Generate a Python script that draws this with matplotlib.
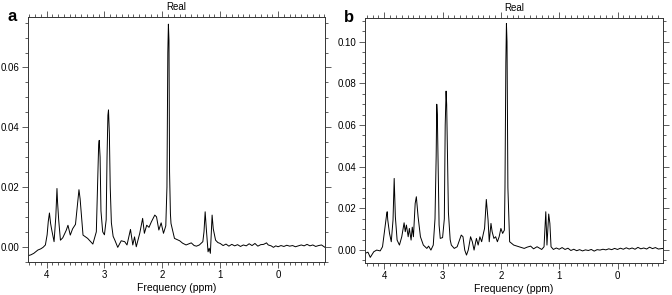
import matplotlib
matplotlib.use("Agg")
import matplotlib.pyplot as plt
from matplotlib.ticker import MultipleLocator

plt.rcParams['font.family'] = ['Liberation Sans', 'DejaVu Sans']

# Spectrum a: chemical shift (ppm) and real amplitude
ppm_a = [4.32, 4.27, 4.22, 4.15, 4.10, 4.06, 4.02, 3.99, 3.97, 3.95, 3.93, 3.91, 3.87,
         3.84, 3.82, 3.81, 3.79, 3.76, 3.72, 3.66, 3.63, 3.59, 3.55, 3.50, 3.46,
         3.44, 3.42, 3.37, 3.29, 3.20, 3.14, 3.12, 3.10, 3.09, 3.075, 3.06, 3.03,
         3.00, 2.97, 2.955, 2.94, 2.93, 2.915, 2.90, 2.88, 2.85, 2.82, 2.77, 2.71,
         2.65, 2.61, 2.55, 2.51, 2.48, 2.45, 2.39, 2.34, 2.31, 2.27, 2.23, 2.19,
         2.13, 2.10, 2.06, 2.02, 1.98, 1.94, 1.92, 1.905, 1.895, 1.885, 1.875, 1.86,
         1.85, 1.79, 1.70, 1.65, 1.59, 1.55, 1.50, 1.45, 1.41, 1.36, 1.30, 1.28,
         1.26, 1.24, 1.21, 1.19, 1.17, 1.155, 1.14, 1.12, 1.08, 1.04, 1.00,
         0.95, 0.90, 0.85, 0.80, 0.75, 0.70, 0.65, 0.60, 0.55, 0.50, 0.45, 0.40,
         0.35, 0.30, 0.25, 0.20, 0.17, 0.12, 0.08, 0.04, 0.00, -0.05, -0.10, -0.15,
         -0.20, -0.25, -0.30, -0.35, -0.40, -0.45, -0.50, -0.55, -0.60, -0.65,
         -0.70, -0.75, -0.81]
amp_a = [-0.0030, -0.0027, -0.0022, -0.0011, -0.0007, -0.0002, 0.0006, 0.0040, 0.0085, 0.0113, 0.0078, 0.0056, 0.0017,
         0.0100, 0.0195, 0.0150, 0.0089, 0.0022, 0.0030, 0.0055, 0.0072, 0.0039, 0.0060, 0.0075, 0.0150,
         0.0191, 0.0160, 0.0039, 0.0028, 0.0009, 0.0050, 0.0200, 0.0340, 0.0356, 0.0300, 0.0120, 0.0050,
         0.0040, 0.0090, 0.0300, 0.0440, 0.0458, 0.0380, 0.0200, 0.0080, 0.0035, 0.0022, -0.0002, 0.0020,
         0.0017, 0.0006, 0.0058, 0.0006, 0.0033, 0.0000, 0.0045, 0.0095, 0.0045, 0.0072, 0.0065, 0.0083,
         0.0106, 0.0100, 0.0056, 0.0080, 0.0045, 0.0070, 0.0200, 0.0650, 0.0745, 0.0690, 0.0250, 0.0110,
         0.0078, 0.0028, 0.0020, 0.0012, 0.0006, 0.0009, 0.0013, 0.0004, 0.0002, 0.0006, 0.0017, 0.0050,
         0.0117, 0.0060, -0.0017, -0.0005, -0.0022, 0.0040, 0.0106, 0.0060, 0.0022, 0.0014, 0.0011,
         0.0004, 0.0009, 0.0002, 0.0008, 0.0003, 0.0007, 0.0001, 0.0006, 0.0003, 0.0010, 0.0004, 0.0011,
         0.0002, 0.0007, 0.0008, 0.0013, 0.0006, 0.0003, -0.0002, 0.0003, 0.0000, 0.0004, 0.0001, 0.0005,
         0.0002, 0.0004, 0.0000, 0.0003, 0.0006, 0.0003, 0.0008, 0.0003, 0.0006, 0.0001,
         0.0004, 0.0006, -0.0002]

# Spectrum b
ppm_b = [4.33, 4.28, 4.24, 4.18, 4.13, 4.07, 4.03, 3.99, 3.96, 3.95, 3.94, 3.91, 3.88,
         3.85, 3.83, 3.81, 3.78, 3.74, 3.70, 3.66, 3.64, 3.62, 3.59, 3.57, 3.54,
         3.52, 3.50, 3.47, 3.45, 3.42, 3.38, 3.33, 3.27, 3.24, 3.20, 3.16, 3.13,
         3.11, 3.10, 3.09, 3.075, 3.06, 3.04, 3.00, 2.97, 2.955, 2.94, 2.93, 2.915,
         2.90, 2.87, 2.85, 2.80, 2.75, 2.68, 2.65, 2.62, 2.59, 2.56, 2.52, 2.49,
         2.46, 2.42, 2.39, 2.36, 2.33, 2.30, 2.28, 2.25, 2.22, 2.20, 2.17, 2.15,
         2.12, 2.09, 2.06, 2.03, 2.00, 1.97, 1.94, 1.93, 1.915, 1.905, 1.895, 1.88,
         1.85, 1.78, 1.69, 1.60, 1.55, 1.49, 1.44, 1.38, 1.30, 1.26, 1.245, 1.23,
         1.21, 1.19, 1.18, 1.16, 1.14, 1.10, 1.05, 1.00, 0.95, 0.90, 0.85, 0.80,
         0.75, 0.70, 0.65, 0.60, 0.55, 0.50, 0.45, 0.40, 0.35, 0.30, 0.25, 0.20,
         0.15, 0.10, 0.05, 0.00, -0.05, -0.10, -0.15, -0.20, -0.25, -0.30, -0.35,
         -0.40, -0.45, -0.50, -0.55, -0.60, -0.65, -0.70, -0.78]
amp_b = [-0.0016, -0.0010, -0.0035, -0.0008, 0.0000, -0.0004, 0.0016, 0.0104, 0.0170, 0.0184, 0.0144, 0.0080, 0.0040,
         0.0144, 0.0344, 0.0160, 0.0048, 0.0024, 0.0064, 0.0131, 0.0088, 0.0120, 0.0064, 0.0104, 0.0048,
         0.0110, 0.0064, 0.0224, 0.0256, 0.0160, 0.0064, 0.0024, 0.0008, 0.0019, 0.0000, 0.0024, 0.0150,
         0.0450, 0.0700, 0.0650, 0.0400, 0.0120, 0.0056, 0.0060, 0.0150, 0.0600, 0.0763, 0.0700, 0.0450,
         0.0180, 0.0050, 0.0024, 0.0008, 0.0016, 0.0072, 0.0064, 0.0000, -0.0024, 0.0000, 0.0064, 0.0040,
         0.0000, 0.0056, 0.0024, 0.0064, 0.0040, 0.0080, 0.0104, 0.0243, 0.0144, 0.0040, 0.0128, 0.0088,
         0.0056, 0.0064, 0.0040, 0.0064, 0.0104, 0.0080, 0.0096, 0.0300, 0.0900, 0.1088, 0.1000, 0.0300,
         0.0040, 0.0024, 0.0016, 0.0008, 0.0014, 0.0019, 0.0006, 0.0016, 0.0003, 0.0016, 0.0100, 0.0184,
         0.0024, 0.0120, 0.0173, 0.0128, 0.0016, 0.0003, 0.0010, 0.0004, 0.0012, 0.0003, 0.0009, -0.0002,
         0.0004, -0.0003, 0.0002, -0.0004, 0.0001, -0.0002, 0.0003, -0.0005, 0.0002, 0.0000, 0.0004, 0.0001,
         0.0006, 0.0002, 0.0008, 0.0003, 0.0009, 0.0004, 0.0011, 0.0005, 0.0010, 0.0004, 0.0013,
         0.0006, 0.0010, 0.0005, 0.0014, 0.0007, 0.0012, 0.0005, 0.0008]

panels = [
    # label, ppm, amp, axes rect, x limits, y limits
    ("a", ppm_a, amp_a, [0.0417, 0.1119, 0.4419, 0.8315], (4.32, -0.81), (-0.0051, 0.077)),
    ("b", ppm_b, amp_b, [0.5432, 0.1085, 0.4434, 0.8305], (4.33, -0.78), (-0.0062, 0.1114)),
]

fig = plt.figure(figsize=(6.72, 2.95), dpi=100)

for label, ppm, amp, rect, xlim, ylim in panels:
    ax = fig.add_axes(rect)
    ax.plot(ppm, amp, color='black', linewidth=0.7)
    ax.set_xlim(*xlim)
    ax.set_ylim(*ylim)

    ax.xaxis.set_major_locator(MultipleLocator(1))
    ax.xaxis.set_minor_locator(MultipleLocator(0.1))
    ax.yaxis.set_major_locator(MultipleLocator(0.02))
    ax.yaxis.set_minor_locator(MultipleLocator(0.005))
    ax.yaxis.set_major_formatter(matplotlib.ticker.FormatStrFormatter('%.2f'))

    ax.tick_params(which='both', direction='out', top=True, right=True,
                   labeltop=False, labelright=False, width=0.6, color='#444444',
                   labelsize=7, pad=2)
    ax.tick_params(which='major', length=4)
    ax.tick_params(which='minor', length=2.2)
    for sp in ax.spines.values():
        sp.set_linewidth(0.7)
        sp.set_color('#333333')

    ax.set_xlabel("Frequency (ppm)", fontsize=7.5, labelpad=2)
    ax.set_title("Real", fontsize=7, pad=5)
    ax.text(-0.07, 1.0, label, transform=ax.transAxes, fontsize=12,
            fontweight='bold', ha='left', va='center')

fig.savefig("out.png", dpi=100)
